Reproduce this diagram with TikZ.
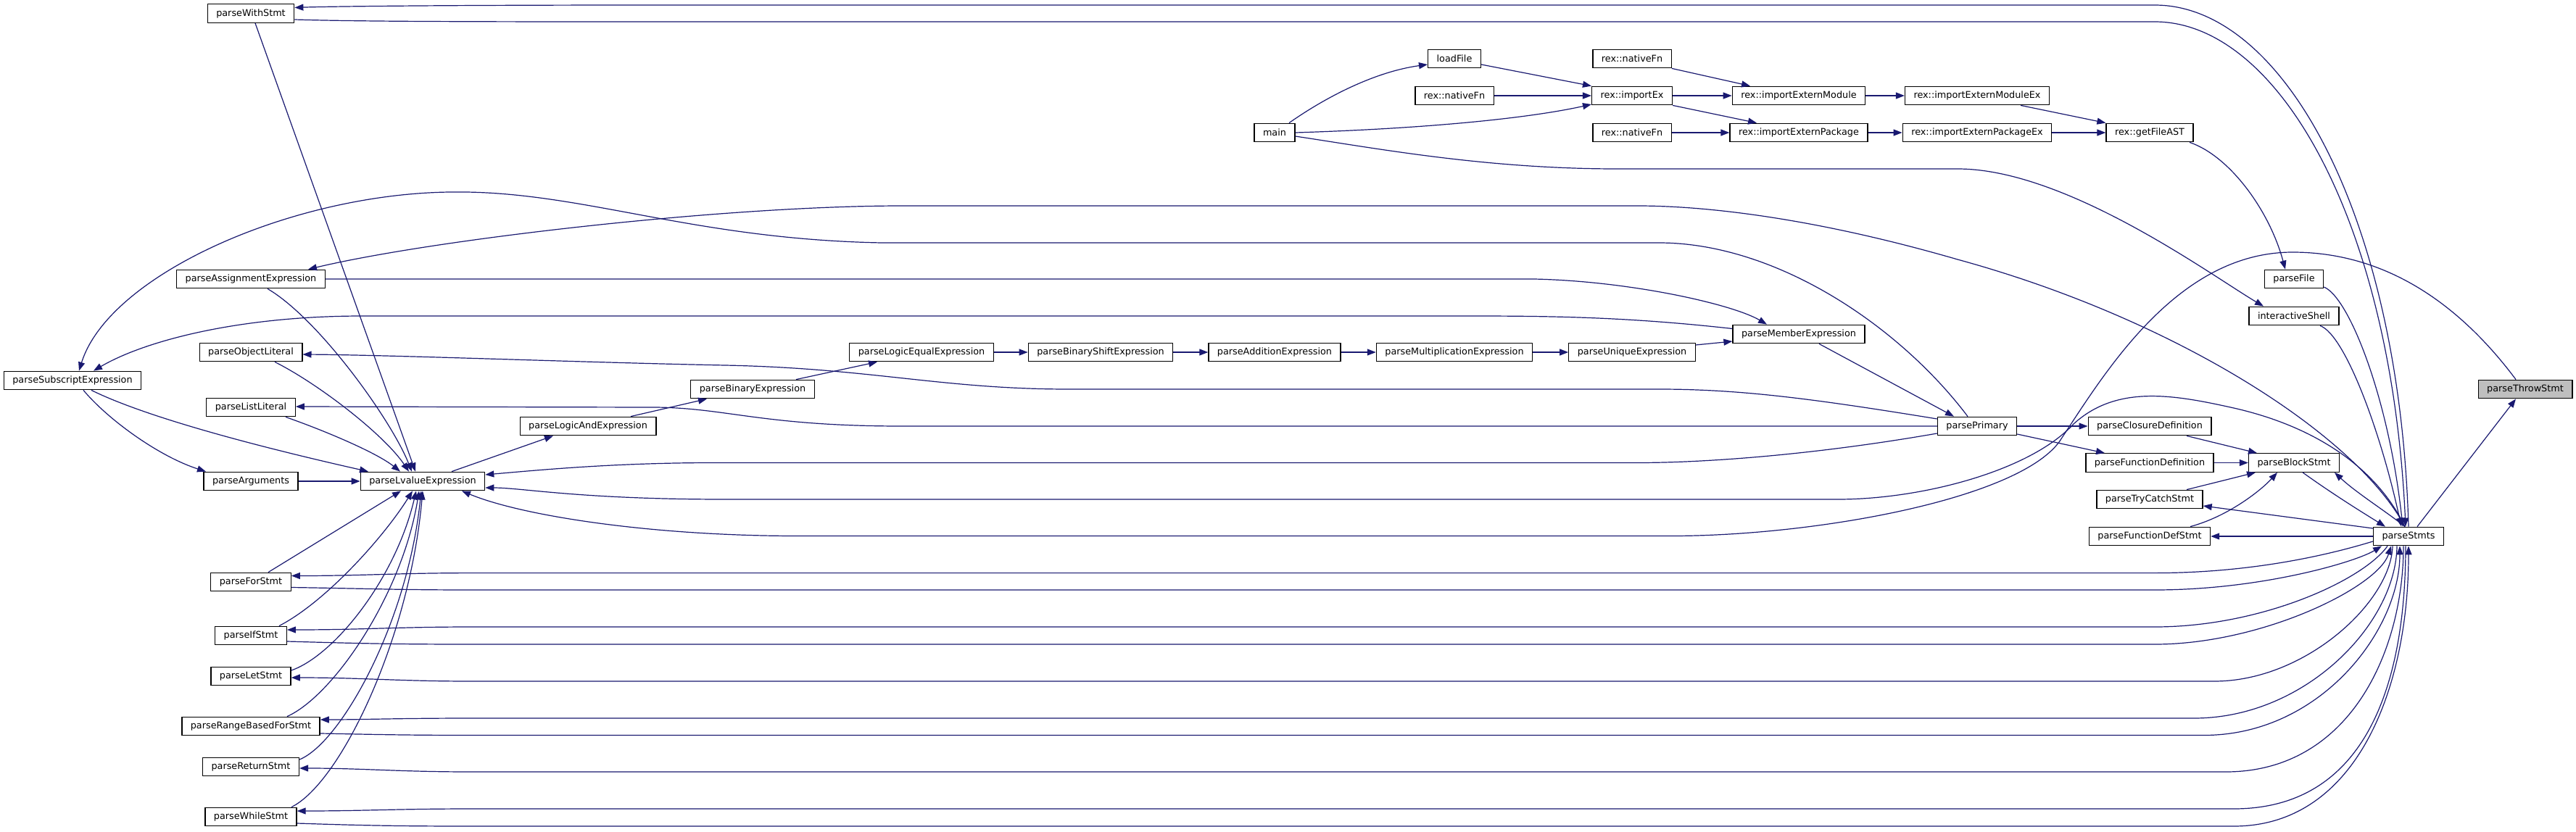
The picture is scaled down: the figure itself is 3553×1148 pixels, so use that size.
\documentclass[tikz,border=0pt]{standalone}
\usepackage{fontspec}
\setmainfont{DejaVu Sans}
\usetikzlibrary{arrows.meta}
\definecolor{edgeblue}{HTML}{191970}
\definecolor{curgray}{HTML}{BFBFBF}
\begin{document}
\begin{tikzpicture}[x=1pt,y=-1pt,
  fn/.style={draw=black, line width=1.3pt, fill=white, rectangle, minimum height=25.5pt,
             inner xsep=12pt, inner ysep=0pt, font=\fontsize{12.8}{15}\selectfont},
  cur/.style={fn, fill=curgray},
  call/.style={draw=edgeblue, line width=1.2pt, -{Triangle[length=12pt,width=9pt]}}
]
\useasboundingbox (0,0) rectangle (3553,1148);
\fill[white] (0,0) rectangle (3553,1148);

% ---------- nodes ----------
\node[fn] (wst)      at (346,18.5) {parseWithStmt};
\node[fn] (assign)   at (346,385)  {parseAssignmentExpression};
\node[fn] (objlit)   at (346,486)  {parseObjectLiteral};
\node[fn] (subs)     at (100,525)  {parseSubscriptExpression};
\node[fn] (listlit)  at (346,562)  {parseListLiteral};
\node[fn] (args)     at (346,664)  {parseArguments};
\node[fn] (lval)     at (583,664)  {parseLvalueExpression};
\node[fn] (forst)    at (346,803)  {parseForStmt};
\node[fn] (ifst)     at (346,877)  {parseIfStmt};
\node[fn] (letst)    at (346,933)  {parseLetStmt};
\node[fn] (rbfor)    at (346,1002) {parseRangeBasedForStmt};
\node[fn] (retst)    at (346,1058) {parseReturnStmt};
\node[fn] (whilest)  at (346,1127) {parseWhileStmt};
\node[fn] (logand)   at (811,588)  {parseLogicAndExpression};
\node[fn] (binexp)   at (1038,537) {parseBinaryExpression};
\node[fn] (logeq)    at (1271,486) {parseLogicEqualExpression};
\node[fn] (bshift)   at (1518,486) {parseBinaryShiftExpression};
\node[fn] (addexp)   at (1758,486) {parseAdditionExpression};
\node[fn] (main)     at (1758,183) {main};
\node[fn] (mulexp)   at (2006,486) {parseMultiplicationExpression};
\node[fn] (loadfile) at (2006,81)  {loadFile};
\node[fn] (nat2)     at (2006,132) {rex::nativeFn};
\node[fn] (uniq)     at (2251,486) {parseUniqueExpression};
\node[fn] (nat1)     at (2251,81)  {rex::nativeFn};
\node[fn] (impex)    at (2251,132) {rex::importEx};
\node[fn] (nat3)     at (2251,183) {rex::nativeFn};
\node[fn] (member)   at (2481,461) {parseMemberExpression};
\node[fn] (extmod)   at (2481,132) {rex::importExternModule};
\node[fn] (extpkg)   at (2481,183) {rex::importExternPackage};
\node[fn] (primary)  at (2727,588) {parsePrimary};
\node[fn] (extmodex) at (2727,132) {rex::importExternModuleEx};
\node[fn] (extpkgex) at (2727,183) {rex::importExternPackageEx};
\node[fn] (getast)   at (2965,183) {rex::getFileAST};
\node[fn] (closure)  at (2965,588) {parseClosureDefinition};
\node[fn] (funcdef)  at (2965,638.5) {parseFunctionDefinition};
\node[fn] (trycatch) at (2965,689) {parseTryCatchStmt};
\node[fn] (funcdefst) at (2965,740) {parseFunctionDefStmt};
\node[fn] (parsefile) at (3164,385) {parseFile};
\node[fn] (ishell)   at (3164,436) {interactiveShell};
\node[fn] (block)    at (3164,638.5) {parseBlockStmt};
\node[fn] (stmts)    at (3322,740) {parseStmts};
\node[cur] (throw)   at (3483,537) {parseThrowStmt};

% ---------- expression chain ----------
\draw[call] (args.east) -- (lval.west);
\draw[call] ([xshift=40pt]lval.north) -- ([xshift=-48pt]logand.south);
\draw[call] ([xshift=59pt]logand.north) -- ([xshift=-63pt]binexp.south);
\draw[call] ([xshift=60pt]binexp.north) -- ([xshift=-61pt]logeq.south);
\draw[call] (logeq.east) -- (bshift.west);
\draw[call] (bshift.east) -- (addexp.west);
\draw[call] (addexp.east) -- (mulexp.west);
\draw[call] (mulexp.east) -- (uniq.west);
\draw[call] ([yshift=10pt]uniq.east) -- ([yshift=-10pt]member.west);
\draw[call] ([xshift=28pt]member.south) -- ([xshift=-32pt]primary.north);
\draw[call] (primary.east) -- (closure.west);
\draw[call] ([yshift=-11pt]primary.east) -- ([xshift=-62pt]funcdef.north);
\draw[call] ([xshift=51pt]closure.south) -- ([xshift=-51pt]block.north);
\draw[call] (funcdef.east) -- (block.west);
\draw[call] ([xshift=51pt]trycatch.north) -- ([xshift=-53pt]block.south);
\draw[call] ([xshift=56pt]funcdefst.north) .. controls (3075,712) and (3120,675) .. ([xshift=-23pt]block.south);
\draw[call] ([xshift=12pt]block.south) .. controls (3215,680) and (3255,705) .. ([xshift=-32pt]stmts.north);
\draw[call] ([xshift=-5pt]stmts.north) .. controls (3290,705) and (3250,680) .. ([xshift=56pt]block.south);
\draw[call] ([yshift=11pt]stmts.west) -- ([yshift=-9pt]trycatch.east);
\draw[call] (stmts.west) -- (funcdefst.east);
\draw[call] ([xshift=12pt]stmts.north) -- ([xshift=-13pt]throw.south);

% ---------- import chain ----------
\draw[call] ([xshift=20pt]main.north) .. controls (1820,140) and (1890,100) .. ([yshift=-8pt]loadfile.west);
\draw[call] (main.east) .. controls (1950,178) and (2100,165) .. ([yshift=-12pt]impex.west);
\draw[call] ([yshift=-5pt]main.east) .. controls (1900,205) and (2050,233) .. (2230,233) -- (2700,233)
   .. controls (2850,233) and (3050,380) .. ([xshift=-42pt]ishell.north);
\draw[call] ([yshift=-8pt]loadfile.east) -- (impex.north west);
\draw[call] (nat2.east) -- (impex.west);
\draw[call] (nat1.south east) -- ([xshift=-67pt]extmod.north);
\draw[call] (impex.east) -- (extmod.west);
\draw[call] (impex.south east) -- ([xshift=-58pt]extpkg.north);
\draw[call] (nat3.east) -- (extpkg.west);
\draw[call] (extmod.east) -- (extmodex.west);
\draw[call] (extpkg.east) -- (extpkgex.west);
\draw[call] ([xshift=60pt]extmodex.south) -- (getast.north west);
\draw[call] (extpkgex.east) -- (getast.west);
\draw[call] ([xshift=55pt]getast.south) .. controls (3075,215) and (3130,290) .. ([xshift=-12pt]parsefile.north);
\draw[call] ([yshift=-11pt]parsefile.east) .. controls (3240,410) and (3295,550) .. ([xshift=-8pt]stmts.north);
\draw[call] ([xshift=36pt]ishell.south) .. controls (3235,462) and (3285,600) .. ([xshift=-10pt]stmts.north);

% ---------- with statement ----------
\draw[call] ([yshift=-8.5pt]wst.east) .. controls (500,30) and (700,30) .. (900,30) -- (2972,30)
   .. controls (3140,30) and (3298,300) .. ([xshift=-4pt]stmts.north);
\draw[call] (stmts.north) .. controls (3310,300) and (3150,7) .. (2972,7) -- (900,7)
   .. controls (600,7) and (450,9) .. ([yshift=8pt]wst.east);

% ---------- long back edges ----------
\draw[call] ([xshift=-5pt]stmts.north) .. controls (3250,600) and (3000,440) .. (2700,358)
   .. controls (2500,300) and (2350,284) .. (2259,284) -- (1244,284)
   .. controls (1000,284) and (600,330) .. ([xshift=79pt]assign.north);
\draw[call] (assign.east) -- (2116,385) .. controls (2250,388) and (2390,420) .. ([xshift=-44pt]member.north);
\draw[call] ([yshift=7.5pt]member.west) .. controls (2250,438) and (2150,436) .. (2030,436) -- (500,436)
   .. controls (330,436) and (200,470) .. ([xshift=29pt]subs.north);
\draw[call] ([xshift=-13pt]primary.north) .. controls (2620,450) and (2450,335) .. (2288,335) -- (1216,335)
   .. controls (950,330) and (800,262) .. (620,265) .. controls (400,268) and (150,380) .. ([xshift=9pt]subs.north);
\draw[call] ([yshift=10pt]primary.west) .. controls (2500,550) and (2400,537) .. (2288,537) -- (1474,537)
   .. controls (1300,537) and (1200,508) .. (1000,504) .. controls (800,500) and (550,490) .. ([yshift=-3pt]objlit.east);
\draw[call] (primary.west) -- (1244,588) .. controls (1050,588) and (1000,562) .. (900,562) -- ([yshift=1pt]listlit.east);
\draw[call] ([yshift=-10pt]primary.west) .. controls (2500,628) and (2350,638.5) .. (2259,638.5) -- (986,638.5)
   .. controls (850,638.5) and (750,648) .. ([yshift=9pt]lval.east);
\draw[call] ([xshift=-5pt]stmts.north) .. controls (3280,650) and (3200,590) .. (3081,563)
   .. controls (3000,545) and (2920,530) .. (2860,585) .. controls (2800,650) and (2650,689) .. (2535,689)
   -- (1000,689) .. controls (800,689) and (720,673) .. ([yshift=-9pt]lval.east);
\draw[call] ([xshift=-13pt]throw.north) .. controls (3400,430) and (3300,348) .. (3162,348)
   .. controls (3000,348) and (2900,520) .. (2840,610) .. controls (2780,690) and (2500,739.5) .. (2305,739.5)
   -- (1100,739.5) .. controls (900,739.5) and (720,712) .. ([xshift=54pt]lval.south);

% ---------- into parseLvalueExpression (left side) ----------
\draw[call] ([xshift=15pt]subs.south) .. controls (150,580) and (220,630) .. ([xshift=-62pt]args.north);
\draw[call] ([xshift=26pt]subs.south) .. controls (200,575) and (350,615) .. ([xshift=-75pt]lval.north);
\draw[call] ([xshift=6pt]wst.south) -- ([xshift=-10pt]lval.north);
\draw[call] ([xshift=23pt]assign.south) .. controls (440,440) and (540,580) .. ([xshift=-15pt]lval.north);
\draw[call] ([xshift=33pt]objlit.south) .. controls (440,530) and (530,600) .. ([xshift=-19pt]lval.north);
\draw[call] ([xshift=48pt]listlit.south) .. controls (450,595) and (520,625) .. ([xshift=-31pt]lval.north);
\draw[call] ([xshift=24pt]forst.north) -- ([xshift=-30pt]lval.south);
\draw[call] ([xshift=39pt]ifst.north) .. controls (450,830) and (530,740) .. ([xshift=-14pt]lval.south);
\draw[call] ([yshift=8pt]letst.east) .. controls (460,905) and (545,800) .. ([xshift=-9pt]lval.south);
\draw[call] ([xshift=50pt]rbfor.north) .. controls (460,960) and (555,820) .. ([xshift=-5pt]lval.south);
\draw[call] ([yshift=10pt]retst.east) .. controls (470,1025) and (562,860) .. ([xshift=-2pt]lval.south);
\draw[call] ([xshift=56pt]whilest.north) .. controls (470,1080) and (565,880) .. (lval.south);

% ---------- statements fan ----------
\draw[call] ([yshift=-7pt]stmts.west) .. controls (3230,760) and (3120,790.6) .. (2972,790.6) -- (650,790.6)
   .. controls (550,790.6) and (500,794.5) .. ([yshift=8.5pt]forst.east);
\draw[call] ([yshift=-7.5pt]forst.east) .. controls (500,812) and (550,814) .. (650,814) -- (2972,814)
   .. controls (3120,814) and (3250,775) .. ([xshift=-37pt]stmts.south);
\draw[call] ([xshift=-29pt]stmts.south) .. controls (3260,800) and (3120,865) .. (2972,865) -- (650,865)
   .. controls (550,865) and (500,869) .. ([yshift=8pt]ifst.east);
\draw[call] ([yshift=-8pt]ifst.east) .. controls (500,888) and (550,889) .. (650,889) -- (2972,889)
   .. controls (3120,889) and (3280,810) .. ([xshift=-24pt]stmts.south);
\draw[call] ([xshift=-22pt]stmts.south) .. controls (3298,830) and (3180,940) .. (3054,940) -- (650,940)
   .. controls (550,940) and (500,935) .. ([yshift=-2pt]letst.east);
\draw[call] ([xshift=-16pt]stmts.south) .. controls (3305,860) and (3180,991) .. (3026,991) -- (650,991)
   .. controls (550,991) and (500,993) .. ([yshift=9pt]rbfor.east);
\draw[call] ([yshift=-10pt]rbfor.east) .. controls (500,1013) and (550,1014.5) .. (650,1014.5) -- (3040,1014.5)
   .. controls (3200,1014.5) and (3310,870) .. ([xshift=-12pt]stmts.south);
\draw[call] ([xshift=-7pt]stmts.south) .. controls (3315,900) and (3240,1065) .. (3070,1065) -- (650,1065)
   .. controls (550,1065) and (500,1060) .. ([yshift=-2pt]retst.east);
\draw[call] ([xshift=-4pt]stmts.south) .. controls (3318,950) and (3260,1116) .. (3081,1116) -- (650,1116)
   .. controls (550,1116) and (500,1119) .. ([yshift=8pt]whilest.east);
\draw[call] ([yshift=-9pt]whilest.east) .. controls (500,1139) and (550,1140) .. (650,1140) -- (3081,1140)
   .. controls (3250,1140) and (3322,950) .. (stmts.south);
\end{tikzpicture}
\end{document}
